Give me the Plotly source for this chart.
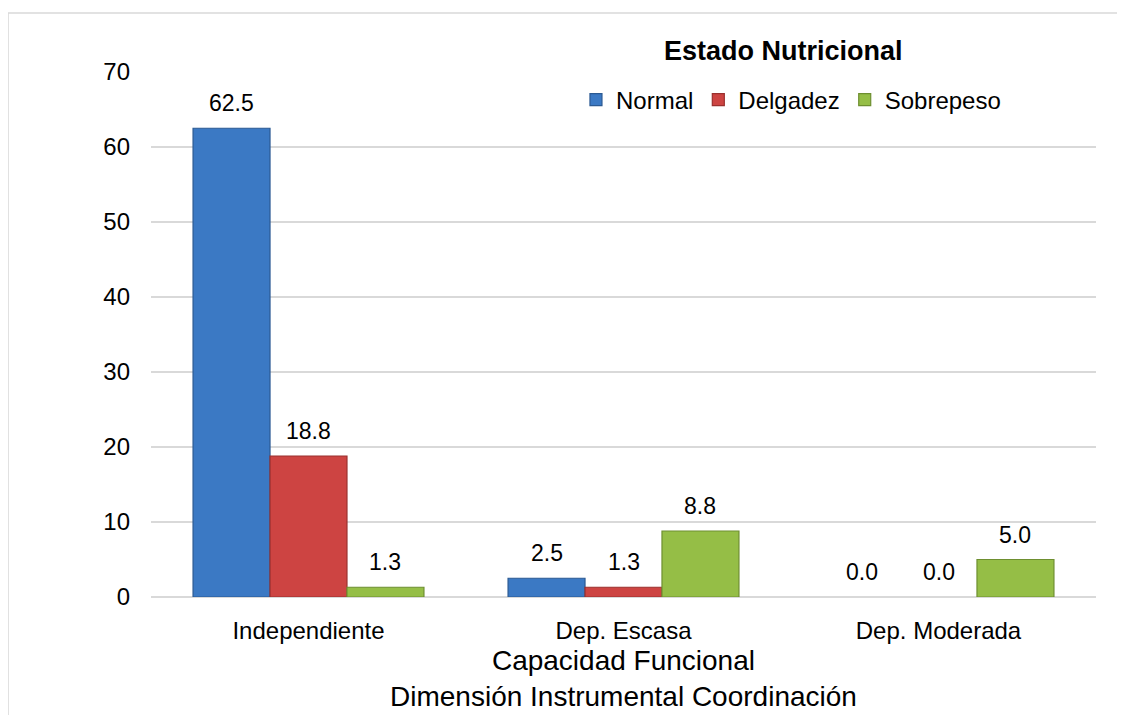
import plotly.graph_objects as go

categories = ["Independiente", "Dep. Escasa", "Dep. Moderada"]
normal = [62.5, 2.5, 0.0]
delgadez = [18.8, 1.3, 0.0]
sobrepeso = [1.3, 8.8, 5.0]
series_names = ["Normal", "Delgadez", "Sobrepeso"]
colors = ["#3B79C4", "#CD4442", "#95BE46"]
edges = ["#2B5A93", "#9A302E", "#6E8F30"]

FONT = "Liberation Sans, Arial"
W, H = 1117, 707
L, R, T, B = 143, 29, 64, 118
BARGAP = 0.267
plot_w = W - L - R
bar_px = plot_w / len(categories) * (1 - BARGAP) / len(series_names)

fig = go.Figure()
annotations = []
for i, (name, vals, c, e) in enumerate(zip(series_names, [normal, delgadez, sobrepeso], colors, edges)):
    fig.add_trace(go.Bar(
        x=categories, y=vals, name=name,
        marker=dict(color=c, line=dict(color=e, width=[1.2 if v > 0 else 0 for v in vals])),
    ))
    for cat, v in zip(categories, vals):
        annotations.append(dict(
            x=cat, y=v, xref="x", yref="y", text=f"{v:.1f}", showarrow=False,
            xshift=(i - 1) * bar_px, yshift=10, yanchor="bottom",
            font=dict(family=FONT, size=23, color="#000"),
        ))

annotations.append(dict(
    x=0.5, y=-0.156, xref="paper", yref="paper", showarrow=False,
    text="Capacidad Funcional<br>Dimensión Instrumental Coordinación",
    font=dict(family=FONT, size=28, color="#000"), yanchor="middle",
))
annotations.append(dict(
    x=0.6698, y=1.04, xref="paper", yref="paper", showarrow=False,
    text="<b>Estado Nutricional</b>", yanchor="middle", xanchor="center",
    font=dict(family=FONT, size=27, color="#000"),
))

fig.update_layout(
    width=W, height=H,
    margin=dict(l=L, r=R, t=T, b=B, autoexpand=False),
    paper_bgcolor="white", plot_bgcolor="white",
    font=dict(family=FONT, color="#000"),
    barmode="group", bargap=BARGAP, bargroupgap=0,
    showlegend=True,
    legend=dict(
        orientation="h", x=0.4497, xanchor="left", y=0.9467, yanchor="middle",
        bgcolor="rgba(0,0,0,0)",
        font=dict(size=24), itemwidth=30, traceorder="normal",
    ),
    xaxis=dict(
        showgrid=False, showline=False, ticks="", automargin=False,
        tickfont=dict(size=24), ticklabelstandoff=17,
    ),
    yaxis=dict(
        range=[0, 70], dtick=10, showgrid=True, gridcolor="#D9D9D9", gridwidth=1.5,
        zeroline=True, zerolinecolor="#D9D9D9", zerolinewidth=2, automargin=False,
        tickfont=dict(size=24), ticks="", ticklabelstandoff=20,
    ),
    annotations=annotations,
    shapes=[dict(type="rect", xref="paper", yref="paper",
                 x0=-0.1513, x1=1.04, y0=-0.3, y1=1.1124,
                 line=dict(color="#D9D9D9", width=1.5), fillcolor="rgba(0,0,0,0)",
                 layer="below")],
)

fig.write_html("out.html")
